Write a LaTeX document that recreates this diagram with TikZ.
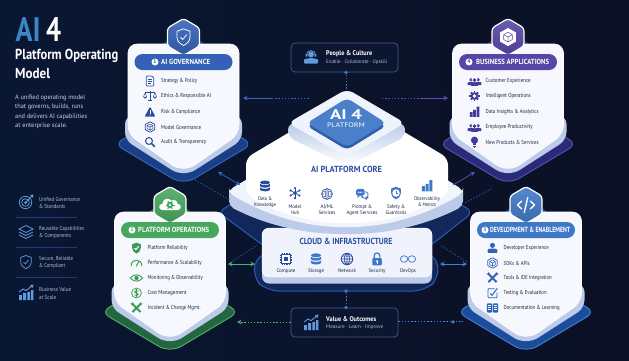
\documentclass[tikz,border=0pt]{standalone}
\usepackage{fontspec}
\usepackage{graphicx}
\setmainfont{PT Sans}
\usetikzlibrary{arrows.meta,calc}

\definecolor{bgleft}{HTML}{0A1733}
\definecolor{bgright}{HTML}{0B1024}
\definecolor{govblue}{HTML}{3461B6}
\definecolor{govink}{HTML}{2A4C9E}
\definecolor{govdeep}{HTML}{1B3F86}
\definecolor{govstroke}{HTML}{3568C0}
\definecolor{opsgreen}{HTML}{47A75E}
\definecolor{opsink}{HTML}{3C9A55}
\definecolor{opsdeep}{HTML}{23663F}
\definecolor{opsstroke}{HTML}{4FB268}
\definecolor{appviolet}{HTML}{5647A6}
\definecolor{appink}{HTML}{463A9C}
\definecolor{appdeep}{HTML}{2B2A78}
\definecolor{appstroke}{HTML}{5A50B4}
\definecolor{devblue}{HTML}{3F78C8}
\definecolor{devink}{HTML}{2F62B8}
\definecolor{devdeep}{HTML}{1C4C9C}
\definecolor{devstroke}{HTML}{3F80D4}
\definecolor{inktext}{HTML}{1C2742}
\definecolor{sidetext}{HTML}{A9C0DE}
\definecolor{bodytext}{HTML}{C9D4E4}
\definecolor{cardedge}{HTML}{BCCBEA}
\definecolor{cardface}{HTML}{F6F8FD}
\definecolor{corebase}{HTML}{12285A}
\definecolor{corestroke}{HTML}{2C5CB0}
\definecolor{boxline}{HTML}{3E5F86}
\definecolor{boxfill}{HTML}{0C1630}
\definecolor{dotblue}{HTML}{3C78C4}
\definecolor{skyicon}{HTML}{5F9BDE}
\definecolor{titleblue}{HTML}{2A4C9E}
\definecolor{hubblue}{HTML}{4A7FC9}
\definecolor{hubedge}{HTML}{2F5FA8}
\definecolor{accentblue}{HTML}{3D85C6}

% horizontal fit: sets text to a given width while keeping its height
\newcommand\fw[2]{\resizebox{#1pt}{\height}{#2}}

\tikzset{
  icl/.style={draw=ic,fill=none,line width=.75pt},
  icf/.style={fill=ic,draw=none},
  ich/.style={fill=ih,draw=none},
  ilh/.style={draw=ih,fill=none,line width=.7pt},
  lbl/.style={inner sep=0pt,anchor=west,text=inktext,font=\fontsize{5.8}{6}\selectfont},
  clbl/.style={inner sep=0pt,anchor=center,text=inktext,font=\fontsize{5.2}{6}\selectfont},
  sidelbl/.style={inner sep=0pt,anchor=west,text=sidetext,font=\fontsize{5.8}{6}\selectfont},
  bodylbl/.style={inner sep=0pt,anchor=west,text=bodytext,font=\fontsize{6.5}{7}\selectfont},
  headlbl/.style={inner sep=0pt,anchor=west,text=white,font=\fontsize{14.5}{16}\selectfont\bfseries},
  cardttl/.style={inner sep=0pt,anchor=center,text=titleblue,font=\fontsize{8.8}{10}\selectfont\bfseries},
  pill/.style={rounded corners=8pt,minimum width=98pt,minimum height=16pt,inner sep=0pt},
  pillttl/.style={inner sep=0pt,anchor=west,text=white,font=\fontsize{7.4}{8}\selectfont\bfseries},
  badge/.style={circle,fill=white,inner sep=0pt,minimum size=7pt,font=\fontsize{5.5}{6}\selectfont\bfseries},
  infobox/.style={draw=boxline,fill=boxfill,line width=.7pt,rounded corners=4pt,minimum width=107pt,minimum height=29pt,inner sep=0pt},
  infotop/.style={inner sep=0pt,anchor=west,text=white,font=\fontsize{6.8}{8}\selectfont\bfseries},
  infosub/.style={inner sep=0pt,anchor=west,text=sidetext,font=\fontsize{5.2}{6}\selectfont},
  dotnode/.style={circle,fill=dotblue,inner sep=0pt,minimum size=3.6pt},
  link/.style={line width=.75pt},
  dots/.style={line width=.7pt,dash pattern=on 1.4pt off 1.8pt},
  tip/.style={-{Stealth[length=4.5pt,width=4.5pt]}},
  tips/.style={{Stealth[length=4.5pt,width=4.5pt]}-{Stealth[length=4.5pt,width=4.5pt]}},
}

% icon library: every icon is drawn around the origin, about 12pt across
\newcommand\defic[2]{\expandafter\def\csname icn@#1\endcsname{#2}}
\newcommand\ic[6][white]{%
  \begin{scope}[shift={(#2,#3)},scale=#6]
    \colorlet{ic}{#4}\colorlet{ih}{#1}
    \csname icn@#5\endcsname
  \end{scope}}

\defic{doc}{\draw[icl,rounded corners=.8pt] (-4.5,-6) -- (2.5,-6) -- (4.5,-4) -- (4.5,6) -- (-4.5,6) -- cycle;
  \draw[icl,line width=.6pt] (-2.5,-1.5) -- (2.5,-1.5) (-2.5,.8) -- (2.5,.8) (-2.5,3) -- (1,3);}
\defic{scales}{\draw[icl] (0,-6) -- (0,5) (-3,5.6) -- (3,5.6) (-6,-4) -- (6,-4);
  \draw[icl,line width=.5pt] (-6,-4) -- (-8,1) (-6,-4) -- (-4,1) (6,-4) -- (8,1) (6,-4) -- (4,1);
  \fill[icf] (-8.4,1) -- (-3.6,1) .. controls (-4,4) and (-8,4) .. (-8.4,1);
  \fill[icf] (8.4,1) -- (3.6,1) .. controls (4,4) and (8,4) .. (8.4,1);}
\defic{warn}{\fill[icf,rounded corners=.8pt] (0,-6.5) -- (6.5,5.5) -- (-6.5,5.5) -- cycle;
  \draw[ilh,line width=1pt] (0,-2) -- (0,2);\fill[ich] (0,3.8) circle (.7);}
\defic{cube}{\draw[icl,rounded corners=.6pt] (0,-6.5) -- (5.8,-3.2) -- (5.8,3.2) -- (0,6.5) -- (-5.8,3.2) -- (-5.8,-3.2) -- cycle;
  \draw[icl,line width=.55pt] (-3.5,-1.8) -- (0,0) -- (3.5,-1.8) (0,0) -- (0,4) (0,-3.8) -- (3.5,-1.8) (0,-3.8) -- (-3.5,-1.8) (-3.5,-1.8) -- (-3.5,2) -- (0,4) -- (3.5,2) -- (3.5,-1.8);}
\defic{mag}{\draw[icl,line width=1pt] (-1.2,-1.2) circle (4.2);\draw[icl,line width=1.6pt,line cap=round] (1.9,1.9) -- (5.6,5.6);}
\defic{shieldshape}{(-5.2,-4.6) -- (0,-6.5) -- (5.2,-4.6) -- (5.2,0) .. controls (5.2,3.6) and (2.6,5.4) .. (0,6.8) .. controls (-2.6,5.4) and (-5.2,3.6) .. (-5.2,0) -- cycle}
\defic{shieldfull}{\fill[icf] \csname icn@shieldshape\endcsname;
  \draw[ilh,line width=1pt] (-2.4,.2) -- (-.6,2) -- (2.6,-2);}
\defic{shieldline}{\draw[icl] \csname icn@shieldshape\endcsname;
  \draw[icl] (-2.4,.2) -- (-.6,2) -- (2.6,-2);}
\defic{gauge}{\draw[icl,line width=.9pt] (-6.5,4) .. controls (-7.5,-6) and (7.5,-6) .. (6.5,4);
  \draw[icl,line width=1pt] (-.5,4) -- (3,-1.8);}
\defic{eye}{\draw[icl,line width=.9pt] (-7.5,0) .. controls (-3,-5.2) and (3,-5.2) .. (7.5,0) .. controls (3,5.2) and (-3,5.2) .. (-7.5,0) -- cycle;
  \fill[icf] (0,0) circle (2.6);}
\defic{dollar}{\draw[icl] (0,0) circle (6);
  \draw[icl,line width=.8pt] (2.3,-2.2) .. controls (1,-3.8) and (-2.8,-3.3) .. (-2.2,-1) .. controls (-1.6,.6) and (2.8,-.4) .. (2.3,1.8) .. controls (1.6,3.6) and (-1.6,3.4) .. (-2.5,2);
  \draw[icl,line width=.6pt] (0,-4.6) -- (0,4.6);}
\defic{tools}{\draw[icl,line width=1.9pt] (-5,-5) -- (5,5) (5,-5) -- (-5,5);
  \fill[icf] (-5.4,-5.4) circle (2) (5.4,-5.4) circle (2);
  \fill[ich] (-6.3,-6.3) circle (1) (6.3,-6.3) circle (1);}
\defic{person}{\fill[icf] (0,-3.2) circle (3.1);
  \fill[icf,rounded corners=.8pt] (-6,6) -- (-6,3.4) .. controls (-6,1) and (-3,.6) .. (0,.6) .. controls (3,.6) and (6,1) .. (6,3.4) -- (6,6) -- cycle;}
\defic{group}{\begin{scope}[shift={(-4.2,.8)},scale=.72]\csname icn@person\endcsname\end{scope}
  \begin{scope}[shift={(4.2,.8)},scale=.72]\csname icn@person\endcsname\end{scope}
  \fill[ich] (0,-1.6) circle (3.6);
  \begin{scope}[shift={(0,1.3)},scale=.78]\csname icn@person\endcsname\end{scope}}
\defic{gear}{\foreach \a in {0,45,...,315}{\draw[icl,line width=1.9pt] (0,0) -- (\a:6.2);}
  \fill[icf] (0,0) circle (4.6);\fill[ich] (0,0) circle (2.2);}
\defic{bars}{\fill[icf] (-5.8,0) rectangle (-2.4,6) (-1.6,-2.5) rectangle (1.8,6) (2.6,-6.5) rectangle (6,6);}
\defic{bulb}{\fill[icf] (0,-2.2) circle (4.4);\fill[icf] (-2.4,.5) rectangle (2.4,4);
  \fill[icf] (-1.9,4.6) rectangle (1.9,5.6);\fill[icf] (-1,5.9) rectangle (1,6.8);}
\defic{target}{\draw[icl] (-.5,.5) circle (6.2);\draw[icl] (-.5,.5) circle (3.8);\fill[icf] (-.5,.5) circle (1.5);
  \draw[icl,line width=.9pt] (-.5,.5) -- (6,-6);\fill[icf] (4.2,-7) -- (7.4,-7.4) -- (7,-4.2) -- cycle;}
\defic{layers}{\draw[icl] (0,-6.5) -- (7,-3) -- (0,.5) -- (-7,-3) -- cycle;
  \draw[icl] (-7,0) -- (0,3.5) -- (7,0);\draw[icl] (-7,3) -- (0,6.5) -- (7,3);}
\defic{chartup}{\fill[icf] (-7,2) rectangle (-4.2,7) (-2.8,0) rectangle (0,7) (1.4,-1.2) rectangle (4.2,7) (5.2,-3) rectangle (7.4,7);
  \draw[icl,line width=.9pt] (-7,-1) -- (-3,-4) -- (0,-2.4) -- (5.6,-6.8);\fill[icf] (3.8,-7.8) -- (7.6,-8.4) -- (6.4,-4.8) -- cycle;}
\defic{database}{\fill[icf] (0,-4.2) ellipse (5.8 and 2.2);
  \fill[icf] (-5.8,-2.6) .. controls (-4,-.5) and (4,-.5) .. (5.8,-2.6) -- (5.8,.4) .. controls (4,2.4) and (-4,2.4) .. (-5.8,.4) -- cycle;
  \fill[icf] (-5.8,1.8) .. controls (-4,3.8) and (4,3.8) .. (5.8,1.8) -- (5.8,4.6) .. controls (4,6.8) and (-4,6.8) .. (-5.8,4.6) -- cycle;}
\defic{nethub}{\foreach \a in {30,90,...,330}{\draw[icl] (0,0) -- (\a:5.6);\fill[icf] (\a:6) circle (1.35);}
  \fill[icf] (0,0) circle (2.1);}
\defic{brain}{\draw[icl] (0,0) circle (6.3);\draw[icl,line width=.55pt] (0,-6) -- (0,6) (-6,0) -- (-3.4,0) (-4,-3.2) -- (-1.8,-2) (-4,3.4) -- (-1.8,2) (-1.8,-4) -- (-1.8,4) (6,0) -- (3.4,0) (4,-3.2) -- (1.8,-2) (4,3.4) -- (1.8,2) (1.8,-4) -- (1.8,4);}
\defic{chat}{\fill[icf,rounded corners=1.6pt] (-7,-6) rectangle (3,2);\fill[icf] (-4.5,1) -- (-5.5,4.6) -- (-1,1) -- cycle;
  \draw[icl,rounded corners=1.6pt] (3.8,-2.5) -- (7,-2.5) -- (7,4) -- (5,4) -- (5,6.4) -- (2.4,4) -- (-.5,4) -- (-.5,2.8);
  \fill[ich] (-4,-2) circle (.8) (-2,-2) circle (.8) (0,-2) circle (.8);}
\defic{shieldinfo}{\fill[icf] \csname icn@shieldshape\endcsname;
  \draw[ilh,line width=.9pt,fill=ih] (0,0) circle (3.4);\draw[icl,line width=.8pt] (0,-2) -- (0,.4) -- (1.6,.4);}
\defic{chip}{\foreach \p in {-4.2,-2.1,0,2.1,4.2}{\draw[icl,line width=.55pt] (\p,-7) -- (\p,7) (-7,\p) -- (7,\p);}
  \fill[ich] (-5.4,-5.4) rectangle (5.4,5.4);\draw[icl] (-5.4,-5.4) rectangle (5.4,5.4);\fill[icf] (-3,-3) rectangle (3,3);}
\defic{globe}{\draw[icl,line width=.9pt] (0,0) circle (6);\draw[icl,line width=.6pt] (0,0) ellipse (2.8 and 6) (0,-6) -- (0,6) (-6,0) -- (6,0) (-5.2,-3) -- (5.2,-3) (-5.2,3) -- (5.2,3);}
\defic{lock}{\draw[icl,line width=1.2pt] (-3,-.5) -- (-3,-3.4) .. controls (-3,-7.4) and (3,-7.4) .. (3,-3.4) -- (3,-.5);
  \fill[icf,rounded corners=.8pt] (-5,-.8) rectangle (5,6.6);\fill[ich] (0,2.4) circle (1.2);\fill[ich] (-.5,2.4) rectangle (.5,4.8);}
\defic{infinity}{\draw[icl] (-3.9,0) ellipse (3.7 and 3.3) (3.9,0) ellipse (3.7 and 3.3);}
\defic{checkpen}{\draw[icl,line width=.9pt,rounded corners=.8pt] (2.5,-5.2) -- (-5.5,-5.2) -- (-5.5,5.8) -- (5.5,5.8) -- (5.5,-.5);
  \draw[icl,line width=1pt] (-2.6,.6) -- (-.6,2.8) -- (5.8,-5.6);}
\defic{book}{\fill[icf,rounded corners=.8pt] (-7,-5.5) rectangle (-.5,5.5) (.5,-5.5) rectangle (7,5.5);
  \draw[ilh,line width=.55pt] (-5.5,-3) -- (-2,-3) (-5.5,-.8) -- (-2,-.8) (-5.5,1.4) -- (-2,1.4) (5.5,-3) -- (2,-3) (5.5,-.8) -- (2,-.8) (5.5,1.4) -- (2,1.4);}
\defic{headset}{\fill[icf] (0,-2.5) circle (3);
  \fill[icf,rounded corners=1pt] (-7,6.5) -- (-7,4) .. controls (-7,2) and (-3.5,1.2) .. (0,1.2) .. controls (3.5,1.2) and (7,2) .. (7,4) -- (7,6.5) -- cycle;
  \draw[icl,line width=.8pt] (-4.2,-1.5) .. controls (-5,-8) and (5,-8) .. (4.2,-1.5);
  \fill[icf] (-5.4,-3) rectangle (-3.6,-.4) (3.6,-3) rectangle (5.4,-.4);}
\defic{code}{\draw[draw=ic,line width=1.3pt,line cap=round,line join=round] (-3.4,-3.2) -- (-6.8,0) -- (-3.4,3.2) (3.4,-3.2) -- (6.8,0) -- (3.4,3.2) (1.4,-6) -- (-1.4,6);}
\defic{cloudgear}{\fill[icf] (-6,4) .. controls (-9.5,4) and (-9.5,-1) .. (-6,-1) .. controls (-6,-5) and (-1,-6.5) .. (1,-3.6) .. controls (3.5,-5) and (6,-3) .. (6,-1) .. controls (9.5,-1) and (9.5,4) .. (6,4) -- cycle;
  \foreach \a in {0,60,...,300}{\draw[draw=ih,line width=1pt] (0,0) -- (\a:3.6);}
  \fill[ich] (0,0) circle (2.6);\fill[icf] (0,0) circle (1);}
\defic{cubehex}{\draw[draw=ic,line width=.9pt,fill=ic] (0,-6.8) -- (6,-3.4) -- (6,3.4) -- (0,6.8) -- (-6,3.4) -- (-6,-3.4) -- cycle;
  \draw[draw=ih,line width=.5pt] (-3.5,-1.8) -- (0,0) -- (3.5,-1.8) (0,0) -- (0,4) (0,-3.8) -- (3.5,-1.8) (0,-3.8) -- (-3.5,-1.8) (-3.5,-1.8) -- (-3.5,2) -- (0,4) -- (3.5,2) -- (3.5,-1.8);}

% one capability card: shelf, wings, edge, face and hexagon badge
% {cx}{top}{main}{deep}{shelf stroke}{hexagon icon}
\newcommand\panel[6]{%
  \begin{scope}[shift={(#1,#2)}]
    \path[fill=#4,draw=#5,line width=.9pt,rounded corners=9pt] (0,60) -- (69,100) [rounded corners=13pt] -- (0,141) [rounded corners=9pt] -- (-69,100) -- cycle;
    \fill[#4] (-25,3) -- (0,-16) -- (25,3) -- cycle;
    \path[fill=cardedge,rounded corners=8pt] (-58.5,72) -- (58.5,72) -- (58.5,96) [rounded corners=14pt] -- (0,133.5) [rounded corners=8pt] -- (-58.5,96) -- cycle;
    \path[fill=cardface,draw=white,line width=.6pt,rounded corners=9pt] (-55.5,0) -- (55.5,0) -- (55.5,90) [rounded corners=14pt] -- (0,129) [rounded corners=9pt] -- (-55.5,90) -- cycle;
    \path[top color=#3!88!white,bottom color=#3!88!black,draw=white,line width=1.2pt,rounded corners=3pt]
      (0,-25.5) -- (16,-16) -- (16,2) -- (0,11.5) -- (-16,2) -- (-16,-16) -- cycle;
    \ic[#3]{0}{-7}{white}{#6}{1.25}
  \end{scope}}

% pill title of a card: {name}{cx}{top}{colour}{badge x}{digit}{text x}{text width}{title}
\newcommand\pilltitle[9]{%
  \node[pill,fill=#4] (#1) at (#2,#3+18) {};
  \node[badge,text=#4] (#1-num) at (#5,#3+18) {#6};
  \node[pillttl] (#1-title) at (#7,#3+18) {\fw{#8}{#9}};}

% one row of a card list: {name}{cx}{y}{colour}{icon}{width}{text}
\newcommand\rowitem[7]{%
  \ic{#2-33.5}{#3}{#4}{#5}{.82}
  \node[lbl] (#1) at (#2-22.5,#3) {\fw{#6}{#7}};}

% one entry of the left-hand list: {name}{y}{icon}{y1}{w1}{line 1}{y2}{w2}{line 2}
\newcommand\sideentry[9]{%
  \ic[bgleft]{26}{#2}{skyicon}{#3}{1}
  \node[sidelbl] (#1-a) at (39,#4) {\fw{#5}{#6}};
  \node[sidelbl] (#1-b) at (39,#7) {\fw{#8}{#9}};}

\begin{document}
\begin{tikzpicture}[x=1pt,y=-1pt]
\useasboundingbox (0,0) rectangle (629,360);
\shade[left color=bgleft,right color=bgright] (0,0) rectangle (629,360);

% headline column
\node[inner sep=0pt,anchor=west,text=accentblue,font=\fontsize{34}{36}\selectfont\bfseries] (hA) at (15.5,30) {\fw{25}{AI}};
\node[inner sep=0pt,anchor=west,text=white,font=\fontsize{34}{36}\selectfont\bfseries] (h4) at (46,30) {\fw{15}{4}};
\node[headlbl] (h1) at (15,56) {\fw{103}{Platform Operating}};
\node[headlbl] (h2) at (15,74) {\fw{35}{Model}};
\node[bodylbl] (b1) at (15,98) {\fw{70}{A unified operating model}};
\node[bodylbl] (b2) at (15,107) {\fw{68}{that governs, builds, runs}};
\node[bodylbl] (b3) at (15,116.5) {\fw{72}{and delivers AI capabilities}};
\node[bodylbl] (b4) at (15,125.5) {\fw{52}{at enterprise scale.}};

% benefits list
\sideentry{s1}{202}{target}{199}{41}{Unified Governance}{206}{26}{\& Standards}
\sideentry{s2}{232}{layers}{229}{45}{Reusable Capabilities}{236}{32}{\& Components}
\sideentry{s3}{262}{shieldline}{259}{34}{Secure, Reliable}{266}{26}{\& Compliant}
\sideentry{s4}{293}{chartup}{289}{32}{Business Value}{297}{17}{at Scale}
\draw[corestroke!55!bgleft,line width=.6pt] (16,217) -- (77,217) (16,247) -- (77,247) (16,277) -- (77,277);

% connector end points
\coordinate (govR) at (243,98);
\coordinate (govM) at (272,98);
\coordinate (hubL) at (310,98);
\coordinate (hubR) at (382,98);
\coordinate (appM) at (420,98);
\coordinate (appL) at (448,98);
\coordinate (govS) at (218,172);
\coordinate (coreNW) at (240,185);
\coordinate (appS) at (475,172);
\coordinate (coreNE) at (453,185);
\coordinate (opsA) at (230,263);
\coordinate (stackSW) at (257,245);
\coordinate (devA) at (467,262);
\coordinate (stackSE) at (440,245);
\coordinate (govT) at (195,180);
\coordinate (coreW) at (230,200);
\coordinate (devT) at (465,203);
\coordinate (devU) at (493,188);
\coordinate (opsE) at (228,264);
\coordinate (cloudW) at (255,264);
\coordinate (cloudE) at (440,264);
\coordinate (devW) at (467,264);
\coordinate (opsD) at (237,322);
\coordinate (devD) at (463,321);

% core stack, back to front
\path[fill=corebase,draw=corestroke,line width=1pt,rounded corners=7pt] (218,212) -- (347,135) -- (473,212) -- (430,246) -- (264,246) -- cycle;
\path[fill=corebase,draw=corestroke,line width=1pt,rounded corners=12pt] (252,277) -- (258,253) -- (435,253) -- (440,277) -- (425,291) -- (267,291) -- cycle;
\path[fill=cardedge,rounded corners=7pt] (262,228) rectangle (432,283.5);
\path[fill=cardface!90!cardedge,draw=white,line width=.4pt,rounded corners=7pt] (262,228) rectangle (432,277);
\path[fill=cardedge,rounded corners=5pt] (229,190) -- (263,170) -- (431,170) -- (463,190) -- (463,206) .. controls (425,226) and (385,234) .. (346,234) .. controls (307,234) and (267,226) .. (229,206) -- cycle;
\path[fill=cardface!92!cardedge,rounded corners=5pt] (229,190) -- (263,170) -- (431,170) -- (463,190) -- (463,193) .. controls (425,216) and (385,227) .. (346,227) .. controls (307,227) and (267,216) .. (229,193) -- cycle;
\path[fill=white,rounded corners=7pt] (347,98) -- (448,158) -- (448,194) .. controls (418,213) and (382,223) .. (347,223) .. controls (312,223) and (276,213) .. (246,194) -- (246,158) -- cycle;

% central hub
\path[top color=cardedge,bottom color=white,rounded corners=7pt] (288,123) -- (405,123) -- (405,137) -- (347,166) -- (288,137) -- cycle;
\path[fill=cardface!88!cardedge,rounded corners=7pt] (347,89) -- (405,123) -- (347,157) -- (288,123) -- cycle;
\path[fill=hubedge,rounded corners=5pt] (347,101) -- (386,126) -- (347,150) -- (307,126) -- cycle;
\path[fill=hubblue,rounded corners=5pt] (347,98) -- (386,123) -- (347,147) -- (307,123) -- cycle;
\node[inner sep=0pt,text=white,font=\fontsize{14}{16}\selectfont\bfseries] (hubA) at (346,115) {\fw{32}{AI 4}};
\node[inner sep=0pt,text=white,font=\fontsize{6.6}{8}\selectfont] (hubB) at (346,125) {\fw{38}{PLATFORM}};

% core services
\node[cardttl] (coreT) at (346.5,169) {\fw{71}{AI PLATFORM CORE}};
\ic{265}{186}{govink}{database}{.85}
\ic{295}{193}{govink}{nethub}{.85}
\ic{327}{194}{govink}{brain}{.85}
\ic{362}{194}{devblue}{chat}{.85}
\ic{396}{193}{devblue}{shieldinfo}{.95}
\ic{427}{186}{devblue}{bars}{.9}
\node[clbl] (c1a) at (265,199) {\fw{14}{Data \&}};
\node[clbl] (c1b) at (265,205) {\fw{22}{Knowledge}};
\node[clbl] (c2a) at (295,207) {\fw{13}{Model}};
\node[clbl] (c2b) at (295,213) {\fw{8}{Hub}};
\node[clbl] (c3a) at (327,207) {\fw{13}{AI/ML}};
\node[clbl] (c3b) at (327,213) {\fw{17}{Services}};
\node[clbl] (c4a) at (362,207) {\fw{20}{Prompt \&}};
\node[clbl] (c4b) at (362,213) {\fw{31}{Agent Services}};
\node[clbl] (c5a) at (396,207) {\fw{18}{Safety \&}};
\node[clbl] (c5b) at (396,213) {\fw{21}{Guardrails}};
\node[clbl] (c6a) at (427,199) {\fw{26}{Observability}};
\node[clbl] (c6b) at (427,205) {\fw{18}{\& Metrics}};

% cloud layer
\node[cardttl] (cloudT) at (346,241) {\fw{93}{CLOUD \& INFRASTRUCTURE}};
\ic{286}{259}{govink}{chip}{.82}
\ic{316}{259}{devblue}{database}{.88}
\ic{347}{259}{govink}{globe}{.95}
\ic{377}{259}{devblue}{lock}{.95}
\ic{408}{259}{devblue}{infinity}{1}
\node[clbl] (f1) at (286,271) {\fw{19}{Compute}};
\node[clbl] (f2) at (316,271) {\fw{16}{Storage}};
\node[clbl] (f3) at (347,271) {\fw{18}{Network}};
\node[clbl] (f4) at (377,271) {\fw{17}{Security}};
\node[clbl] (f5) at (408,271) {\fw{16}{DevOps}};

% four capability cards
\panel{183.5}{44}{govblue}{govdeep}{govstroke}{shieldline}
\pilltitle{gov}{183.5}{44}{govblue}{155}{1}{161}{49}{AI GOVERNANCE}
\rowitem{g1}{183.5}{81}{govink}{doc}{36}{Strategy \& Policy}
\rowitem{g2}{183.5}{96}{govink}{scales}{50}{Ethics \& Responsible AI}
\rowitem{g3}{183.5}{112}{govink}{warn}{39}{Risk \& Compliance}
\rowitem{g4}{183.5}{127}{govink}{cube}{40}{Model Governance}
\rowitem{g5}{183.5}{142}{govink}{mag}{45}{Audit \& Transparency}

\panel{508}{44}{appviolet}{appdeep}{appstroke}{cubehex}
\pilltitle{app}{508}{44}{appviolet}{469}{4}{476}{73}{BUSINESS APPLICATIONS}
\rowitem{a1}{508}{81}{appink}{group}{45}{Customer Experience}
\rowitem{a2}{508}{96}{appink}{gear}{45}{Intelligent Operations}
\rowitem{a3}{508}{112}{appink}{bars}{53}{Data Insights \& Analytics}
\rowitem{a4}{508}{127}{appink}{group}{47}{Employee Productivity}
\rowitem{a5}{508}{142}{appink}{bulb}{53}{New Products \& Services}

\panel{170}{212}{opsgreen}{opsdeep}{opsstroke}{cloudgear}
\pilltitle{ops}{170}{212}{opsgreen}{132}{2}{138}{71}{PLATFORM OPERATIONS}
\rowitem{o1}{170}{248}{opsink}{shieldfull}{40}{Platform Reliability}
\rowitem{o2}{170}{263}{opsink}{gauge}{54}{Performance \& Scalability}
\rowitem{o3}{170}{278}{opsink}{eye}{55}{Monitoring \& Observability}
\rowitem{o4}{170}{293}{opsink}{dollar}{39}{Cost Management}
\rowitem{o5}{170}{308}{opsink}{tools}{53}{Incident \& Change Mgmt.}

\panel{526}{212}{devblue}{devdeep}{devstroke}{code}
\pilltitle{dev}{526}{212}{devblue}{485}{3}{490}{80}{DEVELOPMENT \& ENABLEMENT}
\rowitem{d1}{526}{248}{devink}{person}{45}{Developer Experience}
\rowitem{d2}{526}{263}{devink}{cube}{26}{SDKs \& APIs}
\rowitem{d3}{526}{278}{devink}{tools}{48}{Tools \& IDE Integration}
\rowitem{d4}{526}{293}{devink}{checkpen}{43}{Testing \& Evaluation}
\rowitem{d5}{526}{308}{devink}{book}{56}{Documentation \& Learning}

% people and value boxes
\node[infobox] (people) at (344.5,57.5) {};
\ic[boxfill]{311}{57}{skyicon}{headset}{1}
\node[infotop] (peopleA) at (326,54) {\fw{46}{People \& Culture}};
\node[infosub] (peopleB) at (326,62) {\fw{61}{Enable · Collaborate · Upskill}};
\node[infobox] (value) at (344.5,322.5) {};
\ic[boxfill]{311}{323}{skyicon}{chartup}{1}
\node[infotop] (valueA) at (326,319) {\fw{50}{Value \& Outcomes}};
\node[infosub] (valueB) at (326,327) {\fw{57}{Measure · Learn · Improve}};

\node[dotnode] (peopleDot) at (346,72.5) {};
\coordinate (hubTop) at (346,89);
\node[dotnode] (cloudDot) at (346,291) {};
\node[dotnode] (valueDot) at (346,307.5) {};
\node[dotnode,fill=devblue] (devDot) at (453,322) {};

% connectors
\draw[dots,dotblue] (peopleDot) -- (hubTop);
\draw[dots,dotblue] (cloudDot) -- (valueDot);
\draw[link,tip,govstroke] (govM) -- (govR);
\draw[dots,govstroke] (govM) -- (hubL);
\draw[link,tip,appstroke] (appM) -- (appL);
\draw[dots,appstroke] (hubR) -- (appM);
\draw[link,tips,govstroke] (govS) -- (coreNW);
\draw[link,tip,appstroke] (coreNE) -- (appS);
\draw[dots,corestroke] (opsA) -- (stackSW);
\draw[dots,corestroke] (devA) -- (stackSE);
\draw[dots,corestroke] (govT) -- (coreW);
\draw[dots,corestroke] (devT) -- (devU);
\draw[link,tips,opsstroke] (opsE) -- (cloudW);
\draw[link,tips,devstroke] (cloudE) -- (devW);
\draw[dots,tip,opsstroke] (value.west |- opsD) -- (opsD);
\draw[dots,devstroke] (value.east |- devD) -- (devD);
\end{tikzpicture}
\end{document}
